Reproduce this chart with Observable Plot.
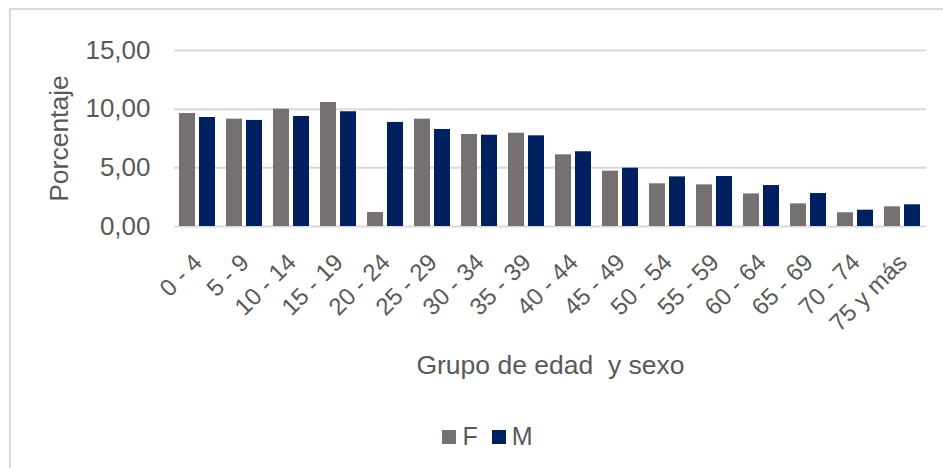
<!DOCTYPE html>
<html>
<head>
<meta charset="utf-8">
<script src="https://cdn.jsdelivr.net/npm/d3@7"></script>
<script src="https://cdn.jsdelivr.net/npm/@observablehq/plot@0.6"></script>
<style>
  html, body { margin: 0; padding: 0; background: #fff; overflow: hidden; }
  body { width: 943px; height: 468px; position: relative; font-family: "Liberation Sans", Arial, sans-serif; }
  #frame { position: absolute; left: 9px; top: 8px; width: 1000px; height: 1000px; border: 2px solid #d9d9d9; box-sizing: border-box; }
  #chart { position: absolute; left: 0; top: 0; }
  #chart svg [aria-label="fx-axis label"] { font-size: 26.5px; }
  #chart svg [aria-label="y-axis label"] { font-size: 26.5px; }
  #legend { position: absolute; left: 16px; width: 943px; top: 422px; display: flex; justify-content: center; align-items: center; color: #595959; font-size: 25px; }
  #legend .item { display: flex; align-items: center; margin: 0 7px; }
  #legend .sw { width: 14px; height: 14px; margin-right: 6px; }
</style>
</head>
<body>
<div id="frame"></div>
<div id="chart"></div>
<div id="legend"></div>
<script>
const groups = ["0 - 4", "5 - 9", "10 - 14", "15 - 19", "20 - 24", "25 - 29", "30 - 34", "35 - 39",
                "40 - 44", "45 - 49", "50 - 54", "55 - 59", "60 - 64", "65 - 69", "70 - 74", "75 y más"];
const sexes = ["F", "M"];
const valuesF = [9.63, 9.15, 10.00, 10.57, 1.19, 9.15, 7.84, 7.95, 6.11, 4.72, 3.64, 3.55, 2.78, 1.93, 1.17, 1.68];
const valuesM = [9.29, 9.04, 9.38, 9.78, 8.87, 8.27, 7.78, 7.73, 6.37, 4.97, 4.23, 4.26, 3.49, 2.81, 1.39, 1.85];
const yTicks = [0, 5, 10, 15];
const colors = ["#767171", "#002060"];

const rows = [];
groups.forEach((g, i) => {
  rows.push({group: g, sex: "F", value: valuesF[i]});
  rows.push({group: g, sex: "M", value: valuesM[i]});
});

const fmt = d => d.toFixed(2).replace(".", ",");

const chart = Plot.plot({
  width: 943,
  height: 400,
  marginLeft: 172,
  marginRight: 16,
  marginTop: 50,
  marginBottom: 174,
  style: {fontFamily: "'Liberation Sans', Arial, sans-serif", color: "#595959", background: "transparent", overflow: "visible"},
  fx: {domain: groups, padding: 0},
  x: {domain: sexes, axis: null, paddingInner: 0.19, paddingOuter: 0.219},
  y: {domain: [0, 15]},
  color: {domain: sexes, range: colors},
  marks: [
    Plot.gridY(yTicks, {stroke: "#d9d9d9", strokeOpacity: 1, strokeWidth: 2}),
    Plot.barY(rows, {fx: "group", x: "sex", y: "value", fill: "sex"}),
    Plot.axisY({ticks: yTicks, tickFormat: fmt, tickSize: 0, tickPadding: 24, fontSize: 26, fill: "#595959",
      label: "Porcentaje", labelAnchor: "center", labelOffset: 125, labelArrow: "none"}),
    Plot.axisFx({anchor: "bottom", tickRotate: -45, tickSize: 0, tickPadding: 32, fontSize: 24, fill: "#595959",
      label: "Grupo de edad\u00a0\u00a0y sexo", labelAnchor: "center", labelOffset: 147, labelArrow: "none"})
  ]
});
document.getElementById("chart").appendChild(chart);

const legend = document.getElementById("legend");
sexes.forEach((s, i) => {
  const item = document.createElement("div");
  item.className = "item";
  const sw = document.createElement("div");
  sw.className = "sw";
  sw.style.background = colors[i];
  const t = document.createElement("span");
  t.textContent = s;
  item.appendChild(sw);
  item.appendChild(t);
  legend.appendChild(item);
});
</script>
</body>
</html>
